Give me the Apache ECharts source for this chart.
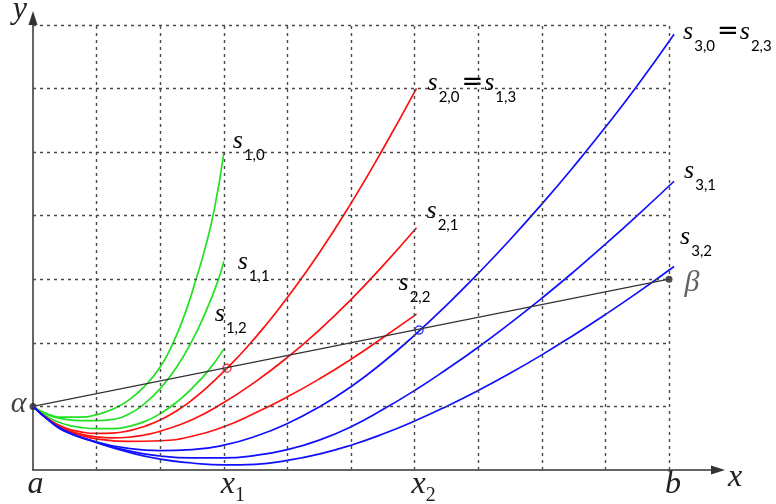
<!DOCTYPE html>
<html><head><meta charset="utf-8">
<script src="https://cdn.jsdelivr.net/npm/echarts@6/dist/echarts.min.js"></script>
<style>html,body{margin:0;padding:0;background:#fff}#c{width:776px;height:504px}</style>
</head><body><div id="c"></div>
<script>
// ---- data (grid unit = 1) ----
const xTickValues = [0, 3, 6, 10];
const xTickLabels = [['a', ''], ['x', '1'], ['x', '2'], ['b', '']];
const xGridTicks = [1, 2, 3, 4, 5, 6, 7, 8, 9, 10];
const yGridTicks = [1, 2, 3, 4, 5, 6, 7];
const alphaBeta = [[0, 1], [10, 3]];
const hitRed = [[3.05, 1.6]];
const hitBlue = [[6.07, 2.2]];

const s10 = [[0,1],[0.25,0.87],[0.5,0.83],[0.75,0.83],[1.0,0.87],[1.25,0.955],[1.5,1.095],[1.75,1.31],[2.0,1.62],[2.2,1.99],[2.4,2.49],[2.55,2.955],[2.7,3.465],[2.85,4.095],[3.0,4.98]];
const s11 = [[0,1],[0.25,0.86],[0.5,0.8],[0.75,0.775],[1.0,0.775],[1.25,0.795],[1.5,0.875],[1.75,1.04],[2.0,1.28],[2.25,1.605],[2.5,2.03],[2.7,2.45],[2.9,2.95],[3.0,3.28]];
const s12 = [[0,1],[0.25,0.82],[0.5,0.72],[0.75,0.67],[1.0,0.65],[1.25,0.65],[1.5,0.685],[1.75,0.76],[2.0,0.885],[2.25,1.06],[2.5,1.285],[2.75,1.555],[3.0,1.9]];
const s20 = [[0,1],[0.25,0.79],[0.5,0.665],[0.75,0.6],[1.0,0.575],[1.25,0.58],[1.5,0.615],[1.75,0.685],[2.0,0.785],[2.25,0.925],[2.5,1.1],[2.75,1.31],[3.05,1.6],[3.35,1.915],[3.65,2.265],[4.0,2.713],[4.5,3.413],[5.0,4.193],[5.5,5.043],[6.03,6.0]];
const s21 = [[0,1],[0.25,0.79],[0.5,0.65],[0.75,0.565],[1.0,0.52],[1.25,0.505],[1.5,0.515],[1.75,0.55],[2.0,0.61],[2.5,0.79],[3.0,1.06],[3.5,1.39],[4.0,1.77],[4.5,2.2],[5.0,2.68],[5.5,3.21],[6.03,3.81]];
const s22 = [[0,1],[0.25,0.79],[0.5,0.64],[0.75,0.545],[1.0,0.49],[1.5,0.45],[2.0,0.46],[2.5,0.53],[3.0,0.68],[3.5,0.9],[4.0,1.15],[4.5,1.43],[5.0,1.74],[5.5,2.08],[6.03,2.45]];
const s30 = [[0,1],[0.25,0.78],[0.5,0.62],[1.0,0.44],[1.5,0.34],[2.0,0.305],[2.5,0.32],[3.0,0.39],[3.5,0.53],[4.0,0.73],[4.5,0.99],[5.0,1.31],[5.5,1.69],[6.0,2.12],[6.5,2.59],[7.0,3.09],[7.5,3.62],[8.0,4.18],[8.5,4.77],[9.0,5.39],[9.5,6.04],[10.08,6.85]];
const s31 = [[0,1],[0.25,0.78],[0.5,0.61],[1.0,0.44],[1.5,0.3],[2.0,0.22],[2.5,0.19],[3.0,0.19],[3.5,0.23],[4.0,0.32],[4.5,0.47],[5.0,0.68],[5.5,0.95],[6.0,1.25],[6.5,1.58],[7.0,1.93],[7.5,2.305],[8.0,2.7],[8.5,3.115],[9.0,3.55],[9.5,4.0],[10.08,4.54]];
const s32 = [[0,1],[0.25,0.78],[0.5,0.61],[1.0,0.43],[1.5,0.28],[2.0,0.17],[2.5,0.11],[3.0,0.08],[3.5,0.09],[4.0,0.15],[4.5,0.25],[5.0,0.39],[5.5,0.565],[6.0,0.77],[6.5,1.0],[7.0,1.25],[7.5,1.52],[8.0,1.81],[8.5,2.12],[9.0,2.445],[9.5,2.785],[10.08,3.2]];
const labelSubs = [['1,0'],['1,1'],['1,2'],['2,0','1,3'],['2,1'],['2,2'],['3,0','2,3'],['3,1'],['3,2']];

// ---- styling ----
const GREEN = '#22e022', RED = '#ff1010', BLUE = '#1010ff';
const curveList = [
  {d: s10, c: GREEN, off: [9, -12]},
  {d: s11, c: GREEN, off: [14, 1]},
  {d: s12, c: GREEN, off: [-9, -35]},
  {d: s20, c: RED, off: [11, -5]},
  {d: s21, c: RED, off: [10, -17]},
  {d: s22, c: RED, off: [-18, -31]},
  {d: s30, c: BLUE, off: [9, -2]},
  {d: s31, c: BLUE, off: [10, -10]},
  {d: s32, c: BLUE, off: [6, -29]}
];
const sRich = {
  ss: {fontFamily: 'Liberation Serif', fontStyle: 'italic', fontSize: 26, lineHeight: 26, color: '#000', verticalAlign: 'middle'},
  sb: {fontFamily: 'Lato', fontSize: 15, lineHeight: 15, color: '#000', padding: [28, 0, 0, 1], verticalAlign: 'middle'},
  eq: {fontFamily: 'DejaVu Sans', fontSize: 26, lineHeight: 26, color: '#000', padding: [0, 1, 0, 2], verticalAlign: 'middle'}
};
function labelText(subs) {
  return subs.map(s => '{ss|s}{sb|' + s + '}').join('{eq|=}');
}

const series = [];
const gridLines = [];
xGridTicks.forEach(x => gridLines.push([{coord: [x, 0]}, {coord: [x, yGridTicks[yGridTicks.length - 1]]}]));
yGridTicks.forEach(y => gridLines.push([{coord: [0, y]}, {coord: [xGridTicks[xGridTicks.length - 1], y]}]));
series.push({
  type: 'line', data: [], silent: true,
  markLine: {silent: true, symbol: ['none', 'none'], label: {show: false}, animation: false,
    lineStyle: {color: '#4a4a4a', width: 1.4, type: [3, 4]}, emphasis: {disabled: true}, data: gridLines}
});
curveList.forEach((cv, i) => {
  series.push({
    type: 'line', data: cv.d, showSymbol: false, smooth: 0.5, silent: true,
    lineStyle: {color: cv.c, width: 1.7}, itemStyle: {color: cv.c},
    endLabel: {show: true, distance: 0, offset: cv.off, formatter: () => labelText(labelSubs[i]), rich: sRich, color: '#000'}
  });
});
series.push({
  type: 'line', data: alphaBeta, showSymbol: false, silent: true,
  lineStyle: {color: '#333', width: 1.2}
});
series.push({
  type: 'scatter', symbolSize: 7, silent: true,
  itemStyle: {color: '#222'},
  label: {show: true, fontFamily: 'Liberation Serif', fontStyle: 'italic', fontSize: 30,
    formatter: p => p.dataIndex === 0 ? 'α' : 'β'},
  data: alphaBeta.map((p, i) => ({
    value: p,
    label: i === 0
      ? {position: 'left', distance: 3, offset: [0, -2], color: '#111'}
      : {position: 'right', distance: 12, offset: [0, 4], color: '#3a3a3a'}
  }))
});
series.push({
  type: 'scatter', data: hitRed, symbol: 'circle', symbolSize: 8, silent: true,
  itemStyle: {color: 'rgba(0,0,0,0)', borderColor: RED, borderWidth: 1.5}
});
series.push({
  type: 'scatter', data: hitBlue, symbol: 'circle', symbolSize: 8, silent: true,
  itemStyle: {color: 'rgba(0,0,0,0)', borderColor: BLUE, borderWidth: 1.5}
});

const chart = echarts.init(document.getElementById('c'));
chart.setOption({
  animation: false,
  backgroundColor: '#fff',
  grid: {left: 33, top: 18, width: 685, height: 452, containLabel: false, outerBoundsMode: 'none'},
  xAxis: {
    type: 'value', min: 0, max: 685 / 63.6,
    name: 'x', nameLocation: 'end', nameGap: 10,
    nameTextStyle: {fontFamily: 'Liberation Serif', fontStyle: 'italic', fontSize: 32, color: '#222', verticalAlign: 'top', lineHeight: 16},
    axisLine: {show: true, onZero: false, symbol: ['none', 'triangle'], symbolSize: [9, 14], lineStyle: {color: '#333', width: 1.5}},
    axisTick: {show: false}, splitLine: {show: false},
    axisLabel: {
      show: true, customValues: xTickValues, margin: 0,
      formatter: v => {
        const k = xTickValues.indexOf(v);
        if (k < 0) return '';
        const t = xTickLabels[k];
        return t[1] ? '{mx|' + t[0] + '}{sb|' + t[1] + '}' : '{m' + t[0] + '|' + t[0] + '}';
      },
      rich: {
        ma: {fontFamily: 'Liberation Serif', fontStyle: 'italic', fontSize: 32, lineHeight: 30, color: '#222', padding: [0, 0, 0, 5], verticalAlign: 'middle'},
        mb: {fontFamily: 'Liberation Serif', fontStyle: 'italic', fontSize: 32, lineHeight: 30, color: '#222', padding: [0, 0, 0, 8], verticalAlign: 'middle'},
        mx: {fontFamily: 'Liberation Serif', fontStyle: 'italic', fontSize: 32, lineHeight: 30, color: '#222', padding: [0, 0, 0, 18], verticalAlign: 'middle'},
        sb: {fontFamily: 'Liberation Serif', fontSize: 20, lineHeight: 9, color: '#222', padding: [21, 0, 0, 0], verticalAlign: 'middle'}
      }
    }
  },
  yAxis: {
    type: 'value', min: 0, max: 452 / 63.6,
    name: 'y', nameLocation: 'end', nameGap: 8,
    nameTextStyle: {fontFamily: 'Liberation Serif', fontStyle: 'italic', fontSize: 32, color: '#222', align: 'right', verticalAlign: 'middle', padding: [0, 6, 0, 0]},
    axisLine: {show: true, onZero: false, symbol: ['none', 'triangle'], symbolSize: [9, 14], lineStyle: {color: '#333', width: 1.5}},
    axisTick: {show: false}, splitLine: {show: false}, axisLabel: {show: false}
  },
  series: series
});
</script></body></html>
